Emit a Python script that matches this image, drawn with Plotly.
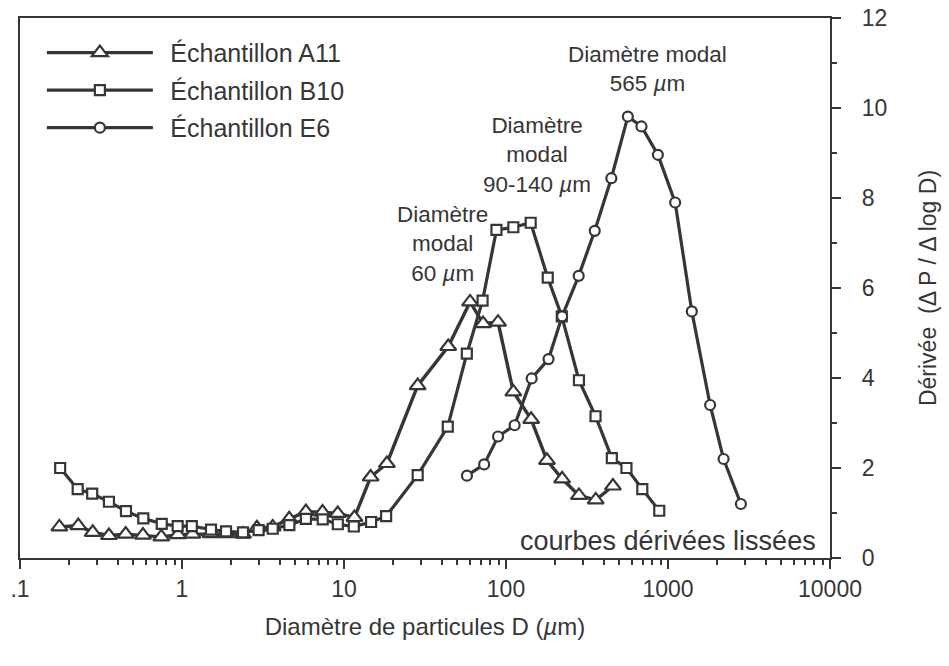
import plotly.graph_objects as go

# Particle diameter D (µm) and smoothed derivative dP/dlogD for each sample
d_a11 = [0.175, 0.229, 0.281, 0.354, 0.449, 0.574, 0.745, 0.944, 1.16, 1.50, 1.87, 2.38,
         2.90, 3.63, 4.59, 5.82, 7.37, 9.14, 11.6, 14.6, 18.4, 28.5, 44.0, 60, 72.2, 89.3,
         111, 143, 179, 222, 282, 358, 457]
v_a11 = [0.69, 0.72, 0.57, 0.50, 0.53, 0.51, 0.47, 0.52, 0.53, 0.54, 0.54, 0.53,
         0.67, 0.69, 0.87, 1.03, 1.02, 0.99, 0.90, 1.80, 2.10, 3.83, 4.70, 5.69, 5.21, 5.24,
         3.69, 3.08, 2.17, 1.76, 1.39, 1.29, 1.60]

d_b10 = [0.177, 0.227, 0.279, 0.354, 0.451, 0.577, 0.750, 0.94, 1.15, 1.51, 1.87, 2.38,
         2.97, 3.63, 4.60, 5.82, 7.39, 9.16, 11.5, 14.7, 18.2, 28.5, 43.7, 57.3, 71.7, 87.3,
         111, 142, 181, 221, 282, 357, 450, 554, 694, 883]
v_b10 = [2.00, 1.53, 1.43, 1.25, 1.04, 0.88, 0.76, 0.71, 0.71, 0.63, 0.59, 0.57,
         0.62, 0.65, 0.73, 0.87, 0.86, 0.75, 0.70, 0.80, 0.93, 1.84, 2.92, 4.54, 5.72, 7.29,
         7.35, 7.45, 6.23, 5.37, 3.95, 3.15, 2.22, 2.00, 1.53, 1.05]

d_e6 = [57.4, 73.3, 89.3, 113, 144, 183, 222, 281, 353, 447, 565, 686, 866, 1107,
        1403, 1820, 2203, 2818]
v_e6 = [1.83, 2.08, 2.70, 2.95, 3.99, 4.42, 5.37, 6.27, 7.27, 8.44, 9.81, 9.59, 8.96, 7.90,
        5.48, 3.40, 2.20, 1.20]

series_names = ["Échantillon A11", "Échantillon B10", "Échantillon E6"]

x_tickvals = [0.1, 1, 10, 100, 1000, 10000]
x_ticktext = [".1", "1", "10", "100", "1000", "10000"]

INK = "#363636"
FONT = "Liberation Sans, Arial, sans-serif"

fig = go.Figure()

series = [
    (d_a11, v_a11, series_names[0], "triangle-up", 14, 3.4),
    (d_b10, v_b10, series_names[1], "square", 10, 3.2),
    (d_e6, v_e6, series_names[2], "circle", 10, 3.2),
]
for i, (xs, ys, name, sym, size, lw) in enumerate(series):
    fig.add_trace(go.Scatter(
        x=xs, y=ys, name="\u2002" + name, mode="lines+markers", legendgroup=f"g{i}",
        line=dict(color=INK, width=lw),
        marker=dict(symbol=sym, size=size, color="white",
                    line=dict(color=INK, width=2.2)),
    ))

# Modal diameter labels (paper pixel anchors inside the plot frame)
labels = [
    ("Diamètre modal<br>565 <i>µ</i>m", 647, 69),
    ("Diamètre<br>modal<br>90-140 <i>µ</i>m", 537, 155),
    ("Diamètre<br>modal<br>60 <i>µ</i>m", 442, 244),
]
for txt, px, py in labels:
    fig.add_annotation(
        x=(px - 20) / 810, y=1 - (py - 18) / 540, xref="paper", yref="paper",
        text=txt, showarrow=False, xanchor="center", yanchor="middle",
        font=dict(family=FONT, size=22.5, color=INK), align="center",
    )

fig.add_annotation(
    x=(818 - 20) / 810, y=1 - (541 - 18) / 540, xref="paper", yref="paper",
    text="courbes dérivées lissées", showarrow=False, xanchor="right", yanchor="middle",
    font=dict(family=FONT, size=27, color=INK),
)

fig.update_layout(
    width=949, height=666,
    margin=dict(l=20, r=119, t=18, b=108, autoexpand=False),
    paper_bgcolor="white", plot_bgcolor="white",
    font=dict(family=FONT, size=22, color=INK),
    showlegend=True,
    legend=dict(
        x=0.027, y=0.978, xanchor="left", yanchor="top",
        bgcolor="rgba(0,0,0,0)", borderwidth=0,
        font=dict(family=FONT, size=25, color=INK),
        itemwidth=106, tracegroupgap=2,
    ),
    xaxis=dict(
        type="log", range=[-1, 4],
        tickmode="array", tickvals=x_tickvals, ticktext=x_ticktext,
        ticks="outside", ticklen=9, tickwidth=2, tickcolor=INK,
        minor=dict(ticks="outside", ticklen=5, tickwidth=2, tickcolor=INK,
                   dtick="D1", showgrid=False),
        showline=True, linewidth=2, linecolor=INK, mirror=True,
        showgrid=False, zeroline=False,
        tickfont=dict(family=FONT, size=23, color=INK),
        title=dict(text="Diamètre de particules D (<i>µ</i>m)", standoff=18,
                   font=dict(family=FONT, size=24, color=INK)),
    ),
    yaxis=dict(
        side="right", range=[0, 12],
        tickmode="linear", tick0=0, dtick=2,
        tickprefix="\u2002\u2009",
        ticks="outside", ticklen=9, tickwidth=2, tickcolor=INK,
        minor=dict(ticks="outside", ticklen=5, tickwidth=2, tickcolor=INK,
                   dtick=1, showgrid=False),
        showline=True, linewidth=2, linecolor=INK, mirror=True,
        showgrid=False, zeroline=False,
        tickfont=dict(family=FONT, size=23, color=INK),
        title=dict(text="Dérivée  (Δ P / Δ log D)", standoff=34,
                   font=dict(family=FONT, size=23, color=INK)),
    ),
)

fig.write_html("out.html")
